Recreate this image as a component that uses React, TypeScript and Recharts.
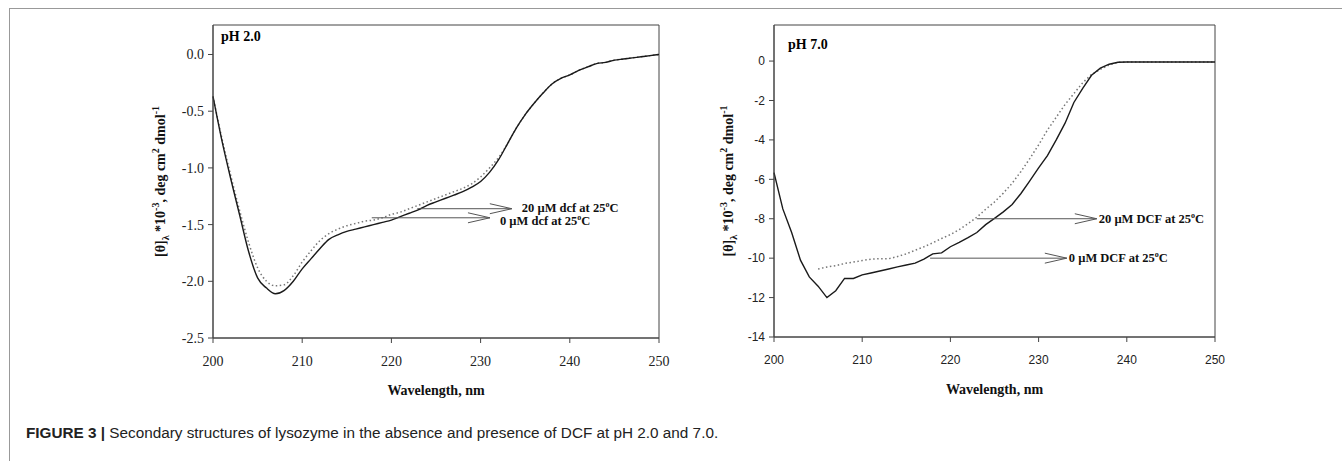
import { Line, LineChart, ReferenceArea, ReferenceLine, XAxis, YAxis } from 'recharts'

const WAVELENGTH = [
  200, 201, 202, 203, 204, 205, 206, 207, 208, 209, 210, 211, 212, 213, 214, 215, 216,
  217, 218, 219, 220, 221, 222, 223, 224, 225, 226, 227, 228, 229, 230, 231, 232, 233,
  234, 235, 236, 237, 238, 239, 240, 241, 242, 243, 244, 245, 246, 247, 248, 249, 250,
]

// pH 2.0, 0 µM dcf (solid) and 20 µM dcf (dotted)
const PH2_0UM = [
  -0.37, -0.76, -1.1, -1.42, -1.74, -1.97, -2.06, -2.11, -2.08, -2.0, -1.89, -1.8, -1.71,
  -1.63, -1.59, -1.56, -1.54, -1.52, -1.5, -1.48, -1.46, -1.43, -1.4, -1.37, -1.33, -1.3,
  -1.27, -1.24, -1.21, -1.17, -1.12, -1.04, -0.93, -0.79, -0.65, -0.53, -0.43, -0.34,
  -0.26, -0.21, -0.18, -0.14, -0.11, -0.08, -0.07, -0.05, -0.04, -0.03, -0.02, -0.01, 0,
]
const PH2_20UM = [
  -0.37, -0.74, -1.07, -1.38, -1.66, -1.88, -2.0, -2.04, -2.03, -1.95, -1.83, -1.73, -1.64,
  -1.58, -1.54, -1.51, -1.49, -1.47, -1.46, -1.44, -1.41, -1.39, -1.36, -1.33, -1.3, -1.27,
  -1.24, -1.21, -1.18, -1.14, -1.08, -1.0, -0.91, -0.79, -0.65, -0.53, -0.43, -0.34,
  -0.26, -0.21, -0.18, -0.14, -0.11, -0.08, -0.07, -0.05, -0.04, -0.03, -0.02, -0.01, 0,
]

// pH 7.0, 0 µM DCF (solid) and 20 µM DCF (dotted)
const PH7_0UM = [
  -5.66, -7.5, -8.7, -10.1, -10.95, -11.42, -12.0, -11.65, -11.03, -11.03, -10.85, -10.75,
  -10.65, -10.55, -10.44, -10.35, -10.25, -10.05, -9.78, -9.73, -9.42, -9.2, -8.96, -8.7,
  -8.3, -7.98, -7.65, -7.28, -6.72, -6.08, -5.42, -4.8, -4.0, -3.15, -2.1, -1.38, -0.72,
  -0.36, -0.16, -0.06, -0.05, -0.05, -0.05, -0.05, -0.05, -0.05, -0.05, -0.05, -0.05,
  -0.05, -0.05,
]
const PH7_20UM = [
  null, null, null, null, null, -10.55, -10.45, -10.38, -10.27, -10.2, -10.12, -10.05,
  -10.03, -10.03, -9.92, -9.78, -9.6, -9.42, -9.22, -9.0, -8.8, -8.55, -8.25, -7.92, -7.52,
  -7.15, -6.7, -6.2, -5.6, -4.95, -4.25, -3.5, -2.85, -2.2, -1.65, -1.1, -0.68, -0.42,
  -0.2, -0.06, -0.05, -0.05, -0.05, -0.05, -0.05, -0.05, -0.05, -0.05, -0.05, -0.05, -0.05,
]

const X_TICKS = [200, 210, 220, 230, 240, 250]
const PH2_Y_TICKS = [-2.5, -2, -1.5, -1, -0.5, 0]
const PH7_Y_TICKS = [-14, -12, -10, -8, -6, -4, -2, 0]

const SERIF = '"Liberation Serif", "Times New Roman", serif'
const SANS = '"Liberation Sans", Arial, sans-serif'
const AXIS = '#444'

type Arrow = { from: number; to: number; y: number; text: string; textDy: number }

const PH2_ARROWS: Arrow[] = [
  { from: 222.9, to: 233.5, y: -1.36, text: '20 µM dcf at 25', textDy: 3 },
  { from: 217.8, to: 231.05, y: -1.44, text: '0 µM dcf at 25', textDy: 7 },
]
const PH7_ARROWS: Arrow[] = [
  { from: 223.0, to: 236.6, y: -8, text: '20 µM DCF at 25', textDy: 4 },
  { from: 217.7, to: 233.2, y: -10, text: '0 µM DCF at 25', textDy: 4 },
]

function arrowShape(text: string, gap: number, textDy: number) {
  return (props: any) => {
    const { x1, y1, x2, y2 } = props
    return (
      <g>
        <line x1={x1} y1={y1} x2={x2} y2={y2} stroke="#555" strokeWidth={1} />
        <polyline
          points={`${x2 - 22},${y2 - 5} ${x2},${y2} ${x2 - 22},${y2 + 5}`}
          fill="none"
          stroke="#555"
          strokeWidth={1}
        />
        <text x={x2 + gap} y={y2 + textDy} fontFamily={SERIF} fontWeight="bold" fontSize={12.5} fill="#111">
          {text}
          <tspan dy={-5} fontSize={8}>o</tspan>
          <tspan dy={5}>C</tspan>
        </text>
      </g>
    )
  }
}

function YLabel({ viewBox, dx }: any) {
  const cx = viewBox.x + dx
  const cy = viewBox.y + viewBox.height / 2
  return (
    <text
      x={cx}
      y={cy}
      transform={`rotate(-90 ${cx} ${cy})`}
      textAnchor="middle"
      fontFamily={SERIF}
      fontWeight="bold"
      fontSize={14}
      fill="#111"
    >
      [θ]
      <tspan dy={4} fontSize={10}>λ</tspan>
      <tspan dy={-4}> *10</tspan>
      <tspan dy={-6} fontSize={10}>-3</tspan>
      <tspan dy={6}>, deg cm</tspan>
      <tspan dy={-6} fontSize={10}>2</tspan>
      <tspan dy={6}> dmol</tspan>
      <tspan dy={-6} fontSize={10}>-1</tspan>
    </text>
  )
}

function XLabel({ viewBox }: any) {
  return (
    <text
      x={viewBox.x + viewBox.width / 2}
      y={viewBox.y + 57}
      textAnchor="middle"
      fontFamily={SERIF}
      fontWeight="bold"
      fontSize={14}
      fill="#111"
    >
      Wavelength, nm
    </text>
  )
}

interface PanelProps {
  solid: (number | null)[]
  dotted: (number | null)[]
  yDomain: [number, number]
  yTicks: number[]
  tickFont: string
  tickSize: number
  tickFormat: (v: number) => string
  curve: 'monotone' | 'linear'
  arrows: Arrow[]
  arrowGap: number
  labelDx: number
  width: number
  margin: { top: number; right: number; bottom: number; left: number }
}

function Panel(p: PanelProps) {
  const data = WAVELENGTH.map((wl, i) => ({ wl, solid: p.solid[i], dotted: p.dotted[i] }))
  const tick = { fontFamily: p.tickFont, fontSize: p.tickSize, fill: '#222' }
  return (
    <LineChart width={p.width} height={400} data={data} margin={p.margin}>
      <XAxis
        type="number"
        dataKey="wl"
        domain={[200, 250]}
        ticks={X_TICKS}
        height={60}
        tick={tick}
        tickSize={5}
        tickMargin={13}
        stroke={AXIS}
        label={{ content: <XLabel /> }}
      />
      <YAxis
        type="number"
        domain={p.yDomain}
        ticks={p.yTicks}
        width={60}
        tick={tick}
        tickSize={5}
        tickMargin={4}
        tickFormatter={p.tickFormat}
        stroke={AXIS}
        label={{ content: <YLabel dx={p.labelDx} /> }}
      />
      <ReferenceArea
        x1={200}
        x2={250}
        y1={p.yDomain[0]}
        y2={p.yDomain[1]}
        fill="none"
        fillOpacity={0}
        stroke={AXIS}
        strokeOpacity={1}
      />
      <Line
        type={p.curve}
        dataKey="dotted"
        stroke="#777"
        strokeWidth={1.5}
        strokeDasharray="1.5 2.5"
        dot={false}
        isAnimationActive={false}
      />
      <Line
        type={p.curve}
        dataKey="solid"
        stroke="#1a1a1a"
        strokeWidth={1.4}
        dot={false}
        isAnimationActive={false}
      />
      {p.arrows.map((a) => (
        <ReferenceLine
          key={a.text}
          segment={[
            { x: a.from, y: a.y },
            { x: a.to, y: a.y },
          ]}
          shape={arrowShape(a.text, p.arrowGap, a.textDy)}
        />
      ))}
    </LineChart>
  )
}

export default function App() {
  return (
    <div style={{ position: 'absolute', left: 0, top: 0, width: 1342, height: 461, background: '#fff' }}>
      <div
        style={{
          position: 'absolute',
          left: 9,
          top: 8,
          width: 1333,
          height: 453,
          borderTop: '1px solid #999',
          borderLeft: '1px solid #999',
        }}
      />
      <div style={{ position: 'absolute', left: 140, top: 0 }}>
        <Panel
          solid={PH2_0UM}
          dotted={PH2_20UM}
          yDomain={[-2.5, 0.26]}
          yTicks={PH2_Y_TICKS}
          tickFont={SERIF}
          tickSize={14}
          tickFormat={(v) => v.toFixed(1)}
          curve="monotone"
          arrows={PH2_ARROWS}
          arrowGap={10}
          labelDx={12}
          width={530}
          margin={{ top: 25, right: 11, bottom: 2, left: 13 }}
        />
      </div>
      <div style={{ position: 'absolute', left: 700, top: 0 }}>
        <Panel
          solid={PH7_0UM}
          dotted={PH7_20UM}
          yDomain={[-14, 1.83]}
          yTicks={PH7_Y_TICKS}
          tickFont={SANS}
          tickSize={12}
          tickFormat={(v) => String(v)}
          curve="linear"
          arrows={PH7_ARROWS}
          arrowGap={2}
          labelDx={19}
          width={525}
          margin={{ top: 25, right: 10, bottom: 3, left: 14 }}
        />
      </div>
      <div style={{ position: 'absolute', left: 221, top: 29, font: `bold 14px ${SERIF}`, lineHeight: '16px' }}>
        pH 2.0
      </div>
      <div style={{ position: 'absolute', left: 788, top: 37, font: `bold 14px ${SERIF}`, lineHeight: '16px' }}>
        pH 7.0
      </div>
      <div
        style={{
          position: 'absolute',
          left: 26,
          top: 424,
          font: `15.3px ${SANS}`,
          lineHeight: '18px',
          color: '#222',
          whiteSpace: 'nowrap',
        }}
      >
        <b>FIGURE 3 |</b> Secondary structures of lysozyme in the absence and presence of DCF at pH 2.0 and 7.0.
      </div>
    </div>
  )
}
